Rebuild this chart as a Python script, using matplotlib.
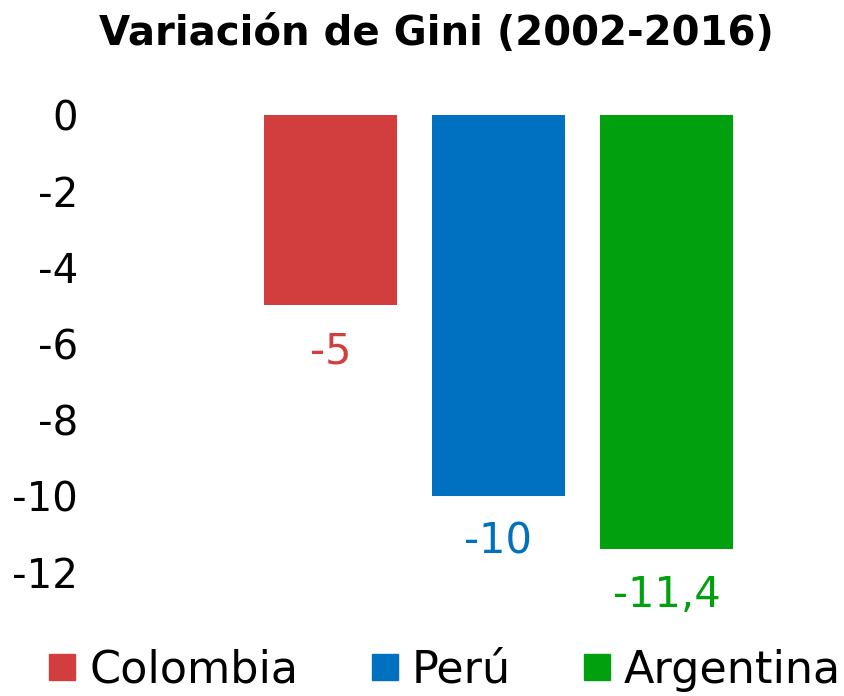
import matplotlib
matplotlib.use("Agg")
import matplotlib.pyplot as plt
from matplotlib.lines import Line2D

# ---- data ----
countries = ["Colombia", "Perú", "Argentina"]
gini_change = [-5, -10, -11.4]
value_labels = ["-5", "-10", "-11,4"]
bar_colors = ["#D23E3E", "#0070C0", "#00A00F"]
yticks = [0, -2, -4, -6, -8, -10, -12]

FONT = "DejaVu Sans"
plt.rcParams["font.family"] = [FONT]
plt.rcParams["axes.unicode_minus"] = False

W, H = 844, 696
fig = plt.figure(figsize=(W / 100, H / 100), dpi=100)
# axes in pixels: x 100..800, y 100..600 (top..bottom)
ax = fig.add_axes([100 / W, 1 - 600 / H, 700 / W, 500 / H])

x = list(range(len(countries)))
ax.bar(x, gini_change, width=0.79, color=bar_colors)
for xi, v, lab, c in zip(x, gini_change, value_labels, bar_colors):
    ax.annotate(lab, (xi, v), xytext=(0, -33), textcoords="offset points",
                ha="center", va="center", fontsize=30, color=c)

ax.set_xlim(-1.372, 2.795)
ax.set_ylim(-12.735, 0.394)
ax.set_yticks(yticks)
ax.set_yticklabels([str(t) for t in yticks])
ax.tick_params(axis="y", length=0, pad=16, labelsize=29)
ax.set_xticks([])
for s in ax.spines.values():
    s.set_visible(False)

fig.text(436 / W, 1 - 34 / H, "Variación de Gini (2002-2016)", ha="center", va="center",
         fontsize=29, fontweight="bold")

handles = [Line2D([], [], ls="none", marker="s", markersize=19, color=c) for c in bar_colors]
fig.legend(handles, countries, loc="center", bbox_to_anchor=(445 / W, 1 - 670 / H), ncol=3,
           frameon=False, fontsize=32, handlelength=0.6, handletextpad=0.3, columnspacing=1.65,
           borderaxespad=0, borderpad=0)

fig.savefig("out.png", dpi=100)
